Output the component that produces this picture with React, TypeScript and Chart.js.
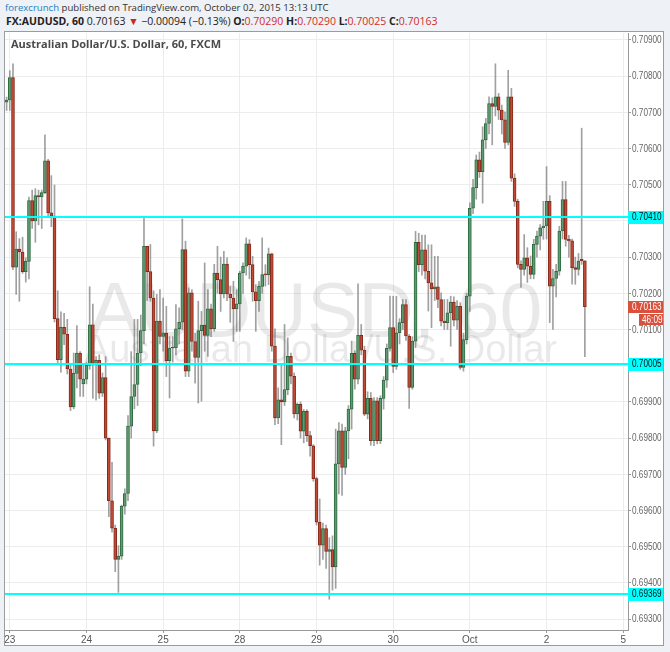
import React, { useEffect, useRef } from 'react';
import { Chart, registerables } from 'chart.js';
Chart.register(...registerables);

// ---- data (hourly candles, AUDUSD 60) ----
const openPrices = [
  0.70728, 0.70734, 0.70796, 0.70272, 0.70322, 0.70314, 0.70260, 0.70288, 0.70456, 0.70400,
  0.70470, 0.70466, 0.70478, 0.70566, 0.70422, 0.70413, 0.70130, 0.70017, 0.70106, 0.70087,
  0.69991, 0.69886, 0.69979, 0.70035, 0.69950, 0.69963, 0.70001, 0.70113, 0.70006, 0.70015,
  0.69924, 0.69967, 0.69800, 0.69627, 0.69551, 0.69465, 0.69474, 0.69612, 0.69647, 0.69833,
  0.69915, 0.69948, 0.70035, 0.70097, 0.70330, 0.70260, 0.70187, 0.69820, 0.70123, 0.70081,
  0.70090, 0.70014, 0.70050, 0.70049, 0.70102, 0.70120, 0.70321, 0.69985, 0.70201, 0.70067,
  0.70023, 0.70097, 0.70112, 0.70084, 0.70157, 0.70102, 0.70256, 0.70238, 0.70198, 0.70281,
  0.70198, 0.70187, 0.70157, 0.70171, 0.70256, 0.70275, 0.70337, 0.70279, 0.70204, 0.70180,
  0.70219, 0.70252, 0.70251, 0.70309, 0.70054, 0.69856, 0.69906, 0.69900, 0.69934, 0.70026,
  0.69971, 0.69867, 0.69893, 0.69819, 0.69874, 0.69807, 0.69779, 0.69688, 0.69568, 0.69504,
  0.69550, 0.69487, 0.69492, 0.69444, 0.69729, 0.69820, 0.69719, 0.69820, 0.69880, 0.70034,
  0.69963, 0.70084, 0.70043, 0.69866, 0.69910, 0.69793, 0.69903, 0.69793, 0.69910, 0.69960,
  0.70048, 0.70105, 0.69998, 0.70091, 0.70119, 0.70169, 0.70082, 0.69940, 0.70068, 0.70341,
  0.70279, 0.70320, 0.70261, 0.70229, 0.70212, 0.70218, 0.70183, 0.70123, 0.70119, 0.70146,
  0.70176, 0.70126, 0.70164, 0.69995, 0.70072, 0.70192, 0.70435, 0.70492, 0.70569, 0.70536,
  0.70624, 0.70669, 0.70724, 0.70716, 0.70743, 0.70706, 0.70679, 0.70617, 0.70743, 0.70518,
  0.70454, 0.70280, 0.70266, 0.70298, 0.70275, 0.70252, 0.70335, 0.70358, 0.70381, 0.70386,
  0.70454, 0.70220, 0.70241, 0.70261, 0.70372, 0.70459, 0.70349, 0.70345, 0.70271, 0.70266,
  0.70294, 0.70290,
];
const highPrices = [
  0.70742, 0.70815, 0.70834, 0.70370, 0.70351, 0.70355, 0.70298, 0.70466, 0.70485, 0.70489,
  0.70485, 0.70485, 0.70638, 0.70570, 0.70525, 0.70499, 0.70207, 0.70149, 0.70145, 0.70128,
  0.70001, 0.70035, 0.70111, 0.70039, 0.70006, 0.70010, 0.70218, 0.70170, 0.70025, 0.70030,
  0.69980, 0.70025, 0.69800, 0.69733, 0.69560, 0.69503, 0.69615, 0.69660, 0.69862, 0.70039,
  0.70128, 0.70128, 0.70140, 0.70410, 0.70330, 0.70335, 0.70207, 0.70197, 0.70210, 0.70187,
  0.70164, 0.70080, 0.70080, 0.70169, 0.70160, 0.70406, 0.70344, 0.70215, 0.70210, 0.70090,
  0.70178, 0.70150, 0.70284, 0.70210, 0.70170, 0.70280, 0.70330, 0.70300, 0.70316, 0.70298,
  0.70219, 0.70233, 0.70210, 0.70261, 0.70284, 0.70353, 0.70348, 0.70302, 0.70224, 0.70233,
  0.70353, 0.70279, 0.70325, 0.70311, 0.70102, 0.69939, 0.70003, 0.70114, 0.70077, 0.70035,
  0.69980, 0.69897, 0.69900, 0.69879, 0.69879, 0.69819, 0.69782, 0.69692, 0.69632, 0.69565,
  0.69560, 0.69525, 0.69530, 0.69825, 0.69843, 0.69839, 0.69830, 0.69890, 0.70068, 0.70041,
  0.70226, 0.70114, 0.70054, 0.69928, 0.69926, 0.69912, 0.69912, 0.69917, 0.69970, 0.70060,
  0.70192, 0.70192, 0.70192, 0.70130, 0.70183, 0.70183, 0.70086, 0.70080, 0.70371, 0.70366,
  0.70361, 0.70361, 0.70334, 0.70334, 0.70302, 0.70302, 0.70201, 0.70183, 0.70183, 0.70192,
  0.70190, 0.70180, 0.70174, 0.70090, 0.70200, 0.70450, 0.70515, 0.70582, 0.70590, 0.70660,
  0.70683, 0.70743, 0.70740, 0.70834, 0.70752, 0.70720, 0.70701, 0.70816, 0.70766, 0.70530,
  0.70460, 0.70290, 0.70362, 0.70326, 0.70303, 0.70349, 0.70372, 0.70390, 0.70454, 0.70550,
  0.70470, 0.70266, 0.70280, 0.70385, 0.70509, 0.70509, 0.70360, 0.70350, 0.70300, 0.70310,
  0.70656, 0.70290,
];
const lowPrices = [
  0.70705, 0.70705, 0.70265, 0.70197, 0.70178, 0.70255, 0.70231, 0.70240, 0.70379, 0.70341,
  0.70389, 0.70379, 0.70475, 0.70413, 0.70384, 0.70121, 0.70006, 0.69982, 0.70058, 0.69977,
  0.69876, 0.69881, 0.69939, 0.69915, 0.69915, 0.69950, 0.69990, 0.69910, 0.69905, 0.69910,
  0.69915, 0.69795, 0.69583, 0.69540, 0.69431, 0.69374, 0.69465, 0.69590, 0.69627, 0.69800,
  0.69881, 0.69890, 0.70000, 0.70060, 0.70180, 0.70178, 0.69778, 0.69815, 0.70060, 0.70040,
  0.69970, 0.69911, 0.70010, 0.70030, 0.70060, 0.70100, 0.69970, 0.69970, 0.70040, 0.69952,
  0.69897, 0.69902, 0.70040, 0.70026, 0.70080, 0.70095, 0.70200, 0.70150, 0.70187, 0.70180,
  0.70120, 0.70067, 0.70095, 0.70095, 0.70200, 0.70250, 0.70240, 0.70178, 0.70095, 0.70150,
  0.70200, 0.70220, 0.70224, 0.70040, 0.69837, 0.69840, 0.69782, 0.69890, 0.69920, 0.69950,
  0.69856, 0.69850, 0.69800, 0.69787, 0.69790, 0.69750, 0.69681, 0.69560, 0.69449, 0.69465,
  0.69440, 0.69355, 0.69380, 0.69385, 0.69646, 0.69642, 0.69700, 0.69743, 0.69825, 0.69935,
  0.69950, 0.70030, 0.69862, 0.69853, 0.69780, 0.69779, 0.69784, 0.69785, 0.69880, 0.69940,
  0.70040, 0.69981, 0.69990, 0.70060, 0.70100, 0.70070, 0.69882, 0.69935, 0.70050, 0.70260,
  0.70250, 0.70240, 0.70151, 0.70105, 0.70180, 0.70160, 0.70110, 0.70100, 0.70100, 0.70054,
  0.70110, 0.70100, 0.69990, 0.69985, 0.70060, 0.70150, 0.70420, 0.70460, 0.70520, 0.70449,
  0.70600, 0.70640, 0.70610, 0.70690, 0.70680, 0.70640, 0.70600, 0.70610, 0.70509, 0.70440,
  0.70270, 0.70216, 0.70250, 0.70230, 0.70240, 0.70240, 0.70300, 0.70320, 0.70349, 0.70350,
  0.70119, 0.70100, 0.70190, 0.70250, 0.70350, 0.70330, 0.70300, 0.70225, 0.70225, 0.70250,
  0.70280, 0.70025,
];
const closePrices = [
  0.70734, 0.70796, 0.70272, 0.70322, 0.70314, 0.70260, 0.70288, 0.70456, 0.70400, 0.70470,
  0.70466, 0.70478, 0.70566, 0.70422, 0.70413, 0.70130, 0.70017, 0.70106, 0.70087, 0.69991,
  0.69886, 0.69979, 0.70035, 0.69963, 0.69963, 0.70001, 0.70113, 0.70006, 0.70015, 0.69924,
  0.69967, 0.69800, 0.69627, 0.69551, 0.69465, 0.69474, 0.69612, 0.69647, 0.69833, 0.69915,
  0.69948, 0.70035, 0.70097, 0.70330, 0.70260, 0.70187, 0.69820, 0.70123, 0.70081, 0.70090,
  0.70014, 0.70049, 0.70049, 0.70102, 0.70120, 0.70321, 0.69985, 0.70201, 0.70067, 0.70023,
  0.70097, 0.70112, 0.70084, 0.70157, 0.70102, 0.70256, 0.70238, 0.70198, 0.70281, 0.70198,
  0.70187, 0.70157, 0.70171, 0.70256, 0.70275, 0.70337, 0.70279, 0.70204, 0.70180, 0.70219,
  0.70252, 0.70251, 0.70309, 0.70054, 0.69856, 0.69906, 0.69900, 0.69934, 0.70026, 0.69971,
  0.69867, 0.69893, 0.69819, 0.69874, 0.69807, 0.69779, 0.69688, 0.69568, 0.69504, 0.69550,
  0.69487, 0.69492, 0.69444, 0.69729, 0.69820, 0.69719, 0.69820, 0.69880, 0.70034, 0.69963,
  0.70084, 0.70043, 0.69866, 0.69910, 0.69793, 0.69903, 0.69793, 0.69910, 0.69960, 0.70048,
  0.70105, 0.69998, 0.70091, 0.70119, 0.70169, 0.70082, 0.69940, 0.70068, 0.70341, 0.70279,
  0.70320, 0.70261, 0.70229, 0.70212, 0.70218, 0.70183, 0.70123, 0.70119, 0.70146, 0.70176,
  0.70126, 0.70164, 0.69995, 0.70072, 0.70192, 0.70435, 0.70492, 0.70569, 0.70536, 0.70624,
  0.70669, 0.70724, 0.70716, 0.70743, 0.70706, 0.70679, 0.70617, 0.70743, 0.70518, 0.70454,
  0.70280, 0.70266, 0.70298, 0.70275, 0.70252, 0.70335, 0.70358, 0.70381, 0.70386, 0.70454,
  0.70220, 0.70241, 0.70261, 0.70372, 0.70459, 0.70349, 0.70345, 0.70271, 0.70266, 0.70289,
  0.70290, 0.70163,
];

const dayLabels = ['23', '24', '25', '28', '29', '30', 'Oct', '2', '5'];
const firstDaySlot = 1;
const barsPerDay = 24;
const totalSlots = 195;

const levelLines = [0.7041, 0.70005, 0.69369];
const yMin = 0.6927;
const yMax = 0.70919;
const tickStep = 0.001;
const lastPrice = 0.70163;
const countdownText = '46:09';

const publisher = 'forexcrunch';
const publishedText = ' published on TradingView.com, October 02, 2015 13:13 UTC';
const symbolText = 'FX:AUDUSD, 60';
const changeText = '\u22120.00094 (\u22120.13%)';
const ohlcLabels = ['O:', 'H:', 'L:', 'C:'];
const ohlcValues = ['0.70290', '0.70290', '0.70025', '0.70163'];
const chartTitle = 'Australian Dollar/U.S. Dollar, 60, FXCM';
const watermarkSymbol = 'AUDUSD, 60';
const watermarkName = 'Australian Dollar/U.S. Dollar';

const slotLabels: string[] = Array.from({ length: totalSlots }, (_, s) => {
  const k = s - firstDaySlot;
  if (k >= 0 && k % barsPerDay === 0) return dayLabels[k / barsPerDay] ?? '';
  return '';
});

const UP_FILL = '#5f9a70';
const UP_LINE = '#2f6b42';
const DN_FILL = '#bf4b36';
const DN_LINE = '#86281a';
const AXIS_FONT = '"Liberation Sans", Arial, sans-serif';
const NARROW = 0.82;

// draws text compressed horizontally (narrow axis font look)
function narrowText(ctx: CanvasRenderingContext2D, text: string, x: number, y: number) {
  ctx.save();
  ctx.translate(x, y);
  ctx.scale(NARROW, 1);
  ctx.fillText(text, 0, 0);
  ctx.restore();
}

const overlayPlugin = {
  id: 'tvOverlay',
  beforeDatasetsDraw(chart: any) {
    const { ctx, chartArea: a } = chart;
    ctx.save();
    ctx.beginPath();
    ctx.rect(a.left, a.top, a.right - a.left, a.bottom - a.top);
    ctx.clip();
    const cx = (a.left + a.right) / 2;
    const cy = (a.top + a.bottom) / 2;
    ctx.fillStyle = 'rgba(0,0,0,0.085)';
    ctx.textAlign = 'center';
    ctx.textBaseline = 'alphabetic';
    ctx.font = '77px ' + AXIS_FONT;
    ctx.fillText(watermarkSymbol, cx - 1, cy + 5);
    ctx.font = '38px ' + AXIS_FONT;
    ctx.fillText(watermarkName, cx + 4, cy + 30);
    ctx.fillStyle = '#4a4a4a';
    ctx.textAlign = 'left';
    ctx.font = 'bold 11px "Open Sans", sans-serif';
    ctx.fillText(chartTitle, a.left + 6, a.top + 15);
    ctx.restore();
  },
  afterDatasetsDraw(chart: any) {
    const { ctx, chartArea: a } = chart;
    const ys = chart.scales.y;
    const W = chart.width;
    ctx.save();
    ctx.font = '10px ' + AXIS_FONT;
    ctx.textBaseline = 'middle';
    ctx.textAlign = 'left';
    // y tick labels
    ctx.fillStyle = '#666';
    ys.ticks.forEach((t: any) => {
      const y = ys.getPixelForValue(t.value);
      narrowText(ctx, Number(t.value).toFixed(5), a.right + 4, y + 0.5);
    });
    levelLines.forEach((v) => {
      const y = Math.round(ys.getPixelForValue(v));
      ctx.fillStyle = '#00ffff';
      ctx.fillRect(a.left, y - 1, a.right - a.left, 2);
      ctx.fillRect(a.right, y - 6, W - a.right, 13);
      ctx.fillStyle = '#111';
      narrowText(ctx, v.toFixed(5), a.right + 4, y + 0.5);
    });
    const py = Math.round(ys.getPixelForValue(lastPrice));
    ctx.fillStyle = '#d9503c';
    ctx.fillRect(a.right, py - 6, W - a.right, 12);
    ctx.fillRect(a.right + 11, py + 7, W - a.right - 11, 11);
    ctx.fillStyle = '#fff';
    narrowText(ctx, lastPrice.toFixed(5), a.right + 4, py + 0.5);
    narrowText(ctx, countdownText, a.right + 14, py + 13);
    ctx.restore();
  },
};

function CandleChart() {
  const ref = useRef<HTMLCanvasElement | null>(null);
  useEffect(() => {
    if (!ref.current) return;
    const bodies = openPrices.map((o, i) => [o, closePrices[i]]);
    const wicks = lowPrices.map((l, i) => [l, highPrices[i]]);
    const isUp = openPrices.map((o, i) => closePrices[i] >= o);
    const chart = new Chart(ref.current, {
      type: 'bar',
      data: {
        labels: slotLabels,
        datasets: [
          {
            label: 'body',
            data: bodies as any,
            backgroundColor: isUp.map((u) => (u ? UP_FILL : DN_FILL)),
            borderColor: isUp.map((u) => (u ? UP_LINE : DN_LINE)),
            borderWidth: 1,
            borderSkipped: false,
            barThickness: 3,
            minBarLength: 1,
            grouped: false,
            order: 0,
          } as any,
          {
            label: 'wick',
            data: wicks as any,
            backgroundColor: 'rgba(120,120,120,0.7)',
            borderWidth: 0,
            barThickness: 1,
            grouped: false,
            order: 1,
          } as any,
        ],
      },
      options: {
        animation: false,
        responsive: false,
        maintainAspectRatio: false,
        layout: { padding: { left: 0, top: 1, right: 0, bottom: 0 } },
        plugins: { legend: { display: false }, tooltip: { enabled: false } },
        scales: {
          x: {
            type: 'category',
            offset: true,
            afterFit: (s: any) => { s.height = 15; },
            grid: {
              offset: false,
              color: (c: any) => (slotLabels[c.index] ? '#ececec' : 'rgba(0,0,0,0)'),
              tickColor: (c: any) => (slotLabels[c.index] ? '#999' : 'rgba(0,0,0,0)'),
              tickLength: 3,
              lineWidth: 1,
            },
            border: { display: true, color: '#999' },
            ticks: {
              autoSkip: false,
              maxRotation: 0,
              minRotation: 0,
              padding: 1,
              color: '#555',
              font: { family: AXIS_FONT, size: 10 },
            },
          } as any,
          y: {
            type: 'linear',
            position: 'right',
            min: yMin,
            max: yMax,
            beginAtZero: false,
            afterFit: (s: any) => { s.width = 35; },
            grid: { color: '#ececec', tickColor: '#999', tickLength: 3, lineWidth: 1 },
            border: { display: true, color: '#999' },
            ticks: {
              display: false,
              stepSize: tickStep,
              includeBounds: false,
            },
          } as any,
        },
      },
      plugins: [overlayPlugin],
    });
    return () => chart.destroy();
  }, []);
  return <canvas ref={ref} width={658} height={613} style={{ display: 'block' }} />;
}

export default function App() {
  const red = '#cf2f2a';
  return (
    <div
      style={{
        position: 'absolute', left: 0, top: 0, width: 670, height: 652,
        background: '#eef1f5', overflow: 'hidden',
        fontFamily: '"Open Sans", sans-serif', color: '#333',
      }}
    >
      <div style={{ position: 'absolute', left: 5, top: 1, fontSize: 9.6, lineHeight: '13px', whiteSpace: 'nowrap' }}>
        <span style={{ color: '#2b7dbc' }}>{publisher}</span>
        {publishedText}
      </div>
      <div style={{ position: 'absolute', left: 6, top: 15, fontSize: 10.5, lineHeight: '13px', whiteSpace: 'nowrap', color: '#222' }}>
        <b>{symbolText}</b>{' 0.70163 '}
        <span style={{ color: '#c62a1f' }}>{'\u25BC'}</span>{' ' + changeText + ' '}
        {ohlcLabels.map((l, i) => (
          <span key={l}>
            <b>{l}</b>
            <span style={{ color: red }}>{ohlcValues[i]}</span>
            {i < ohlcLabels.length - 1 ? ' ' : ''}
          </span>
        ))}
      </div>
      <div
        style={{
          position: 'absolute', left: 4, top: 31, width: 658, height: 613,
          border: '1px solid #9c9c9c', background: '#fff',
        }}
      >
        <CandleChart />
      </div>
    </div>
  );
}
